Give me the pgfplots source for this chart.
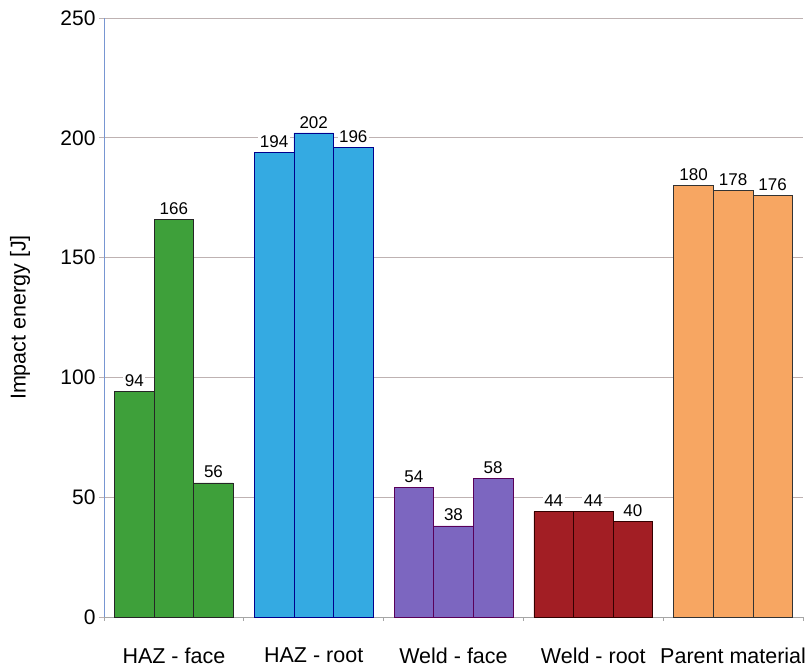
\documentclass[border=0pt]{standalone}
\usepackage{pgfplots}
\pgfplotsset{compat=1.18}
\usepackage{fontspec}
\setmainfont{Liberation Sans}

\definecolor{hazface}{RGB}{62,160,58}
\definecolor{hazroot}{RGB}{52,170,226}
\definecolor{weldface}{RGB}{124,102,192}
\definecolor{weldroot}{RGB}{162,30,36}
\definecolor{parent}{RGB}{247,166,98}
\definecolor{gridc}{RGB}{190,178,178}
\definecolor{yaxisc}{RGB}{120,150,210}

\begin{document}
\begin{tikzpicture}
\begin{axis}[
  scale only axis,
  width=699pt, height=599pt,
  xmin=-0.5, xmax=4.5,
  ymin=0, ymax=250,
  clip=false,
  axis x line=bottom, axis y line=left,
  x axis line style={-, draw=gray!70, line width=0.6pt},
  y axis line style={-, draw=yaxisc, line width=0.6pt},
  /pgf/number format/assume math mode=true,
  ytick={0,50,...,250},
  ymajorgrids,
  grid style={gridc, line width=0.6pt},
  ytick style={gridc, line width=0.6pt},
  tick align=outside,
  major tick length=5pt,
  yticklabel style={font=\fontsize{21}{21}\selectfont},
  xtick={0,...,4},
  xticklabels={HAZ - face, HAZ - root, Weld - face, Weld - root, Parent material},
  major x tick style={draw=none},
  minor xtick={-0.5,0.5,...,4.5},
  minor x tick style={gray!70, line width=0.6pt},
  minor tick length=4pt,
  xticklabel style={font=\fontsize{21.5}{21.5}\selectfont, yshift=-22pt},
  ylabel={Impact energy [J]},
  ylabel style={font=\fontsize{21.5}{21.5}\selectfont, at={(axis description cs:-0.12,0.5)}, anchor=center},
  ybar, bar width=0.283, bar shift=0pt,
  nodes near coords,
  every node near coord/.append style={font=\fontsize{17}{17}\selectfont, fill=white, inner sep=1.5pt, yshift=3pt},
]
\addplot[fill=hazface, draw=black!85, line width=0.6pt]
  coordinates {(-0.283,94) (0,166) (0.283,56)};
\addplot[fill=hazroot, draw=blue!55!black, line width=0.6pt]
  coordinates {(0.717,194) (1,202) (1.283,196)};
\addplot[fill=weldface, draw=violet!70!black, line width=0.6pt]
  coordinates {(1.717,54) (2,38) (2.283,58)};
\addplot[fill=weldroot, draw=black!80!red, line width=0.6pt]
  coordinates {(2.717,44) (3,44) (3.283,40)};
\addplot[fill=parent, draw=black!80, line width=0.6pt]
  coordinates {(3.717,180) (4,178) (4.283,176)};
\end{axis}
\path (current axis.south west) ++(-104pt,-51pt) rectangle ++(812pt,668pt);
\end{tikzpicture}
\end{document}
